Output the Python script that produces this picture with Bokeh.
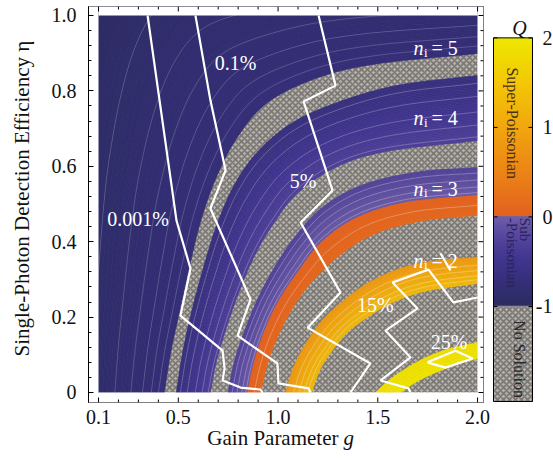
import numpy as np
from bokeh.plotting import figure
from bokeh.models import Range1d, Label, FixedTicker
from bokeh.layouts import row, column
from bokeh.core.properties import value
from bokeh.embed import file_html
from bokeh.resources import INLINE

# ---------------- data ----------------
x_ticks = [0.1, 0.5, 1.0, 1.5, 2.0]
x_minor = [0.2, 0.3, 0.4, 0.6, 0.7, 0.8, 0.9, 1.1, 1.2, 1.3, 1.4, 1.6, 1.7, 1.8, 1.9]
y_ticks = [0.0, 0.2, 0.4, 0.6, 0.8, 1.0]
y_minor = [0.04, 0.08, 0.12, 0.16, 0.24, 0.28, 0.32, 0.36, 0.44, 0.48, 0.52, 0.56,
           0.64, 0.68, 0.72, 0.76, 0.84, 0.88, 0.92, 0.96]
x_tick_labels = ["0.1", "0.5", "1.0", "1.5", "2.0"]
y_tick_labels = {0.0: "0", 0.2: "0.2", 0.4: "0.4", 0.6: "0.6", 0.8: "0.8", 1.0: "1.0"}
g_lo, g_hi = 0.1, 2.0
eta_lo, eta_hi = 0.0, 1.0

# band boundary curves (g, eta), from the bottom edge to the right edge
far_g = [-0.3, -0.3, -0.1, 0.5, 2.0]
far_e = [0.0, 0.8, 1.3, 1.4, 1.4]
A_out_g = [0.43, 0.46, 0.50, 0.55, 0.61, 0.69, 0.80, 0.95, 1.20, 1.50, 2.00]
A_out_e = [0.00, 0.10, 0.20, 0.32, 0.45, 0.57, 0.68, 0.77, 0.835, 0.872, 0.899]
A_in_g = [0.49, 0.52, 0.56, 0.62, 0.69, 0.78, 0.90, 1.07, 1.30, 1.60, 2.00]
A_in_e = [0.00, 0.10, 0.20, 0.32, 0.44, 0.55, 0.64, 0.715, 0.77, 0.815, 0.841]
B_out_g = [0.66, 0.69, 0.74, 0.80, 0.88, 0.98, 1.10, 1.30, 1.55, 2.00]
B_out_e = [0.00, 0.08, 0.17, 0.26, 0.36, 0.45, 0.53, 0.60, 0.64, 0.668]
B_in_g = [0.75, 0.78, 0.83, 0.90, 0.98, 1.08, 1.22, 1.42, 1.70, 2.00]
B_in_e = [0.00, 0.08, 0.16, 0.25, 0.33, 0.41, 0.49, 0.55, 0.585, 0.597]
O_out_g = [0.847, 0.88, 0.93, 1.00, 1.10, 1.22, 1.40, 1.65, 2.00]
O_out_e = [0.00, 0.08, 0.16, 0.24, 0.32, 0.40, 0.465, 0.505, 0.523]
O_in_g = [0.912, 0.95, 1.00, 1.08, 1.18, 1.30, 1.48, 1.72, 2.00]
O_in_e = [0.00, 0.08, 0.15, 0.23, 0.30, 0.36, 0.42, 0.455, 0.47]
N2_out_g = [1.037, 1.08, 1.14, 1.22, 1.32, 1.45, 1.62, 1.80, 2.00]
N2_out_e = [0.00, 0.07, 0.13, 0.19, 0.24, 0.29, 0.33, 0.35, 0.358]
N2_in_g = [1.168, 1.21, 1.27, 1.35, 1.45, 1.58, 1.75, 2.00]
N2_in_e = [0.00, 0.06, 0.11, 0.16, 0.20, 0.24, 0.27, 0.289]
Y_out_g = [1.488, 1.55, 1.63, 1.73, 1.85, 2.00]
Y_out_e = [0.00, 0.03, 0.06, 0.09, 0.115, 0.133]
Y_in_g = [1.614, 1.70, 1.80, 1.90, 2.00]
Y_in_e = [0.00, 0.03, 0.055, 0.075, 0.09]

# Q ranges of each region (outer edge -> inner edge)
Q_n5 = (-1.05, -0.72)
Q_n4 = (-0.66, -0.30)
Q_n3 = (-0.26, -0.02)
Q_or = (0.03, 0.12)
Q_n2 = (0.80, 1.30)
Q_n1 = (1.85, 1.95)

# success-probability contours (g, eta)
L1_g = [0.346, 0.491, 0.561, 0.511, 0.722, 0.732, 0.722, 0.812, 0.912, 0.922]
L1_e = [1.0, 0.456, 0.329, 0.204, 0.111, 0.064, 0.032, 0.013, 0.008, 0.0]
L2_g = [0.586, 0.661, 0.737, 0.661, 0.862, 0.797, 0.997, 1.002, 1.153, 1.163]
L2_e = [1.0, 0.775, 0.589, 0.488, 0.247, 0.151, 0.077, 0.024, 0.011, 0.0]
L3_g = [1.203, 1.288, 1.128, 1.273, 1.113, 1.313, 1.148, 1.463, 1.363]
L3_e = [1.0, 0.814, 0.772, 0.536, 0.451, 0.265, 0.172, 0.077, 0.0]
L4_g = [2.0, 1.879, 1.754, 1.574, 1.699, 1.539, 1.664, 1.514, 1.654, 1.664]
L4_e = [0.252, 0.239, 0.326, 0.292, 0.223, 0.164, 0.093, 0.032, 0.011, 0.0]
L4b_g = [1.814, 1.864]
L4b_e = [0.369, 0.324]
L5_g = [1.749, 1.889, 1.975, 1.839, 1.749]
L5_e = [0.080, 0.111, 0.090, 0.066, 0.080]

pct_text = ["0.001%", "0.1%", "5%", "15%", "25%"]
pct_g = [0.298, 0.787, 1.125, 1.488, 1.857]
pct_e = [0.459, 0.873, 0.562, 0.233, 0.135]
ni_text = ["= 5", "= 4", "= 3", "= 2"]
ni_e = [0.9125, 0.727, 0.541, 0.350]

x_title = "Gain Parameter"
x_title_var = "g"
y_title = "Single-Photon Detection Efficiency \u03b7"
cb_title = "Q"
cb_ticks = [2, 1, 0, -1]
cb_labels = ["2", "1", "0", "-1"]

FONT = "Liberation Serif, serif"
SX, SY = 199.5, 377.0  # px per unit, used only to smooth curves isotropically
TXT = "#111111"


def qrgb(q):
    if q < 0:
        stops = [(-1.05, (42, 43, 92)), (-0.75, (52, 46, 118)), (-0.45, (66, 54, 146)),
                 (-0.2, (88, 72, 158)), (0.0, (110, 94, 170))]
    else:
        stops = [(0.0, (226, 96, 32)), (0.5, (236, 132, 22)), (1.0, (241, 166, 14)),
                 (1.5, (243, 200, 6)), (2.0, (238, 232, 0))]
    qs = [s[0] for s in stops]
    return [int(round(np.interp(q, qs, [s[1][i] for s in stops]))) for i in range(3)]


def qcolor(q):
    return "#%02x%02x%02x" % tuple(qrgb(q))


def curve(gs, es, n=160):
    P = np.column_stack([np.asarray(gs) * SX, np.asarray(es) * SY])
    P = np.vstack([2 * P[0] - P[1], P, 2 * P[-1] - P[-2]])
    out = []
    for i in range(1, len(P) - 2):
        p0, p1, p2, p3 = P[i - 1], P[i], P[i + 1], P[i + 2]
        for t in np.linspace(0, 1, 16, endpoint=False):
            t2, t3 = t * t, t * t * t
            out.append(0.5 * (2 * p1 + (-p0 + p2) * t + (2 * p0 - 5 * p1 + 4 * p2 - p3) * t2
                              + (-p0 + 3 * p1 - 3 * p2 + p3) * t3))
    out.append(P[-2])
    Q = np.array(out)
    d = np.r_[0, np.cumsum(np.hypot(*np.diff(Q, axis=0).T))]
    s = np.linspace(0, d[-1], n)
    return np.column_stack([np.interp(s, d, Q[:, 0]) / SX, np.interp(s, d, Q[:, 1]) / SY])


def strip_fig(w, h, xrange, yrange):
    f = figure(width=w, height=h, x_range=xrange, y_range=yrange, output_backend="svg",
               toolbar_location=None, min_border=0, x_axis_location=None, y_axis_location=None)
    f.grid.visible = False
    f.outline_line_color = None
    return f


# ---------------- main figure ----------------
xr = Range1d(0.04987, 2.0298)
yr = Range1d(-0.02653, 1.02387)
p = figure(x_range=xr, y_range=yr, frame_width=395, frame_height=396,
           output_backend="svg", toolbar_location=None, x_axis_location=None,
           min_border_left=48, min_border_right=5, min_border_top=6, min_border_bottom=2)
p.grid.visible = False
p.outline_line_color = "black"
p.outline_line_width = 1

p.yaxis.ticker = FixedTicker(ticks=y_ticks, minor_ticks=y_minor)
p.yaxis.major_tick_in = 5
p.yaxis.major_tick_out = 0
p.yaxis.minor_tick_in = 3
p.yaxis.minor_tick_out = 0
p.yaxis.major_label_text_font = FONT
p.yaxis.major_label_text_font_size = "20px"
p.yaxis.major_label_text_color = TXT
p.yaxis.axis_line_color = "black"
p.yaxis.major_label_standoff = 12
p.yaxis.major_label_overrides = y_tick_labels

# hatched "no solution" background
p.quad(left=g_lo, right=g_hi, bottom=eta_lo, top=eta_hi, fill_color="#b4b0ab",
       line_color=None, hatch_pattern="diagonal_cross", hatch_color="#7b7772",
       hatch_scale=6, hatch_weight=1.6)


def band(outer, inner, qr, nsub, cts, alpha=0.4):
    A = curve(*outer)
    B = curve(*inner)
    ts = np.linspace(0, 1, nsub + 1)
    xs, ys, cols = [], [], []
    for k in range(nsub):
        C1 = (1 - ts[k]) * A + ts[k] * B
        C2 = (1 - ts[k + 1]) * A + ts[k + 1] * B
        poly = np.vstack([C1, C2[::-1]])
        xs.append(poly[:, 0])
        ys.append(poly[:, 1])
        cols.append(qcolor(qr[0] + (qr[1] - qr[0]) * 0.5 * (ts[k] + ts[k + 1])))
    p.patches(xs, ys, fill_color=cols, line_color=cols, line_width=0.6)
    lx, ly = [], []
    for t in cts:
        C = (1 - t) * A + t * B
        lx.append(C[:, 0])
        ly.append(C[:, 1])
    if lx:
        p.multi_line(lx, ly, line_color="white", line_alpha=alpha, line_width=0.7)


band((far_g, far_e), (A_out_g, A_out_e), Q_n5, 40, [0.5, 0.66, 0.77, 0.85, 0.91, 0.96], 0.28)
band((A_in_g, A_in_e), (B_out_g, B_out_e), Q_n4, 40, [0.12, 0.32, 0.56, 0.76, 0.94], 0.35)
band((B_in_g, B_in_e), (O_out_g, O_out_e), Q_n3, 30, [0.2, 0.45, 0.7, 0.9], 0.4)
band((O_out_g, O_out_e), (O_in_g, O_in_e), Q_or, 6, [0.5], 0.4)
band((N2_out_g, N2_out_e), (N2_in_g, N2_in_e), Q_n2, 24, [0.3, 0.5, 0.7, 0.85], 0.4)
band((Y_out_g, Y_out_e), (Y_in_g, Y_in_e), Q_n1, 6, [])

# white masks outside the data box
p.quad(left=[-1.0, g_hi, g_lo, g_lo], right=[g_lo, 3.0, g_hi, g_hi],
       bottom=[-1.0, -1.0, eta_hi, -1.0], top=[2.0, 2.0, 2.0, eta_lo],
       fill_color="white", line_color=None)

# tick marks on the bottom, top and right frame edges (pointing inwards)
tkx = 5.0 / SX
tky = 5.0 / SY
nx = len(x_ticks) + len(x_minor)
ny = len(y_ticks) + len(y_minor)
x_len = [tky] * len(x_ticks) + [0.6 * tky] * len(x_minor)
y_len = [tkx] * len(y_ticks) + [0.6 * tkx] * len(y_minor)
p.segment(x0=x_ticks + x_minor, x1=x_ticks + x_minor, y0=[yr.end] * nx,
          y1=[yr.end - v for v in x_len], line_color="black", line_width=1)
p.segment(x0=x_ticks + x_minor, x1=x_ticks + x_minor, y0=[yr.start] * nx,
          y1=[yr.start + v for v in x_len], line_color="black", line_width=1)
p.segment(y0=y_ticks + y_minor, y1=y_ticks + y_minor, x0=[xr.end] * ny,
          x1=[xr.end - v for v in y_len], line_color="black", line_width=1)

# probability contours
p.multi_line([L1_g, L2_g, L3_g, L4_g, L4b_g, L5_g], [L1_e, L2_e, L3_e, L4_e, L4b_e, L5_e],
             line_color="white", line_width=2.2)

for t, gx, ey in zip(pct_text, pct_g, pct_e):
    p.add_layout(Label(x=gx, y=ey, text=t, text_font=FONT, text_font_size="20px",
                       text_color="white", text_align="center", text_baseline="alphabetic"))
for t, ey in zip(ni_text, ni_e):
    p.add_layout(Label(x=1.679, y=ey, text="n", text_font=FONT, text_font_size="20px",
                       text_font_style="italic", text_color="white", text_baseline="alphabetic"))
    p.add_layout(Label(x=1.731, y=ey - 0.011, text="i", text_font=FONT, text_font_size="13px",
                       text_color="white", text_baseline="alphabetic"))
    p.add_layout(Label(x=1.769, y=ey, text=t, text_font=FONT, text_font_size="20px",
                       text_color="white", text_baseline="alphabetic"))

# ---------------- y title strip ----------------
left = strip_fig(40, 404, Range1d(0, 40), Range1d(-0.03183, 1.03979))
left.text(x=[21], y=[0.5199], text=[y_title], angle=np.pi / 2, text_align="center",
          text_baseline="middle", text_font=value(FONT), text_font_size="21px", text_color=TXT)

# ---------------- colour bar ----------------
Q_top, Q_bot = 2.3504, -2.0730
ns_bottom = -2.062
cb = strip_fig(65, 404, Range1d(0, 65), Range1d(Q_bot, Q_top))
cb_q = np.linspace(2, -1, 300)
img = np.zeros((len(cb_q), 1), dtype=np.uint32)
view = img.view(dtype=np.uint8).reshape((len(cb_q), 1, 4))
for i, q in enumerate(cb_q[::-1]):
    r, g, b = qrgb(q)
    view[i, 0, :] = [r, g, b, 255]
cb.image_rgba(image=[img], x=5, y=-1, dw=39, dh=3)
cb.quad(left=5, right=44, bottom=ns_bottom, top=-1, fill_color="#b4b0ab", line_color=None,
        hatch_pattern="diagonal_cross", hatch_color="#7b7772", hatch_scale=6, hatch_weight=1.6)
cb.segment(x0=5, x1=44, y0=-1, y1=-1, line_color="#8a8a96", line_width=1.5)
cb.quad(left=5, right=44, bottom=ns_bottom, top=2, fill_color=None, line_color="black",
        line_width=1)
cb.segment(x0=[5] * 4 + [44] * 4, y0=cb_ticks * 2, x1=[9] * 4 + [40] * 4, y1=cb_ticks * 2,
           line_color="black", line_width=1)
for v, t in zip(cb_ticks, cb_labels):
    cb.add_layout(Label(x=64, y=v, text=t, text_font=FONT, text_font_size="20px",
                        text_color=TXT, text_align="right", text_baseline="middle"))
cb.add_layout(Label(x=31, y=2.11, text=cb_title, text_font=FONT, text_font_size="20px",
                    text_font_style="italic", text_color=TXT, text_align="center",
                    text_baseline="alphabetic"))
cb.add_layout(Label(x=24, y=1.67, text="Super-Poissonian", text_font=FONT,
                    text_font_size="16px", text_color="#4a3318", text_align="left",
                    text_baseline="middle", angle=-np.pi / 2))
cb.add_layout(Label(x=36, y=-0.01, text="Sub", text_font=FONT, text_font_size="15px",
                    text_color="#2a2358", text_align="left", text_baseline="middle",
                    angle=-np.pi / 2))
cb.add_layout(Label(x=23, y=-0.01, text="-Poissonian", text_font=FONT, text_font_size="15px",
                    text_color="#2a2358", text_align="left", text_baseline="middle",
                    angle=-np.pi / 2))
cb.add_layout(Label(x=31, y=-1.153, text="No Solution", text_font=FONT, text_font_size="16px",
                    text_color="#2a2a2a", text_align="left", text_baseline="middle",
                    angle=-np.pi / 2))

# ---------------- x tick labels and title strip ----------------
bottom = strip_fig(553, 46, Range1d(-0.39123, 2.38070), Range1d(0, 46))
bottom.text(x=x_ticks, y=[34] * len(x_ticks), text=x_tick_labels, text_align="center",
            text_baseline="alphabetic", text_font=value(FONT), text_font_size="20px",
            text_color=TXT)
bottom.text(x=[1.303], y=[13], text=[x_title], text_align="right", text_baseline="alphabetic",
            text_font=value(FONT), text_font_size="21px", text_color=TXT)
bottom.text(x=[1.328], y=[13], text=[x_title_var], text_align="left", text_baseline="alphabetic",
            text_font=value(FONT), text_font_size="21px", text_font_style="italic", text_color=TXT)

layout = column(row(left, p, cb), bottom)
open("out.html", "w").write(file_html(layout, INLINE))
